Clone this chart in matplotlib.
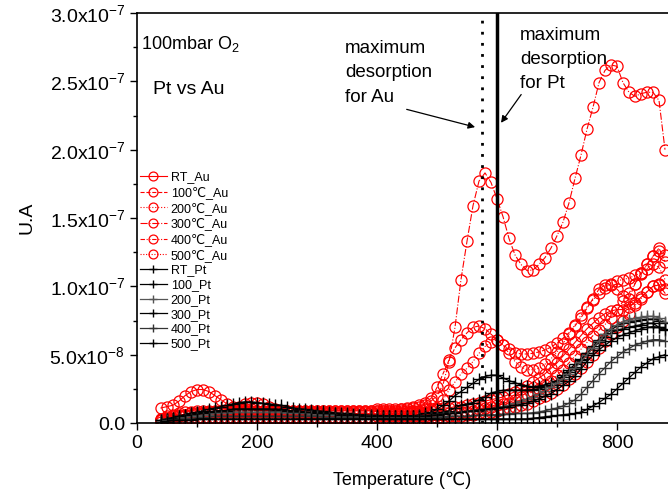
import matplotlib
matplotlib.use('Agg')
import matplotlib.pyplot as plt
import numpy as np
from matplotlib.ticker import MultipleLocator, FuncFormatter

plt.rcParams['font.family'] = ['Liberation Sans', 'DejaVu Sans']
plt.rcParams['mathtext.default'] = 'regular'

# temperature grid (C), one sample every 10 degrees
T = np.arange(40, 890, 10)

# signals in units of 1e-8
rt_au = [1.1, 1.2, 1.3, 1.6, 2.0, 2.3, 2.45, 2.45, 2.3, 2.0,
         1.7, 1.4, 1.2, 1.0, 1.0, 1.0, 0.9, 0.9, 0.9, 0.9,
         0.9, 0.9, 0.9, 0.9, 0.9, 0.9, 0.9, 0.9, 0.9, 0.9,
         0.9, 0.9, 0.9, 0.9, 0.9, 0.9, 0.9, 0.9, 0.9, 0.9,
         0.9, 0.9, 0.9, 0.9, 1.0, 1.0, 1.0, 1.1, 1.1, 1.2,
         1.2, 1.3, 1.4, 1.5, 1.6, 1.7, 1.8, 1.9, 2.1, 2.3,
         2.5, 2.7, 3.0, 3.3, 3.6, 4.0, 4.4, 4.9, 5.4, 5.9,
         6.4, 6.9, 7.3, 7.7, 8.0, 8.2, 8.3, 8.3, 8.5, 8.8,
         9.2, 9.6, 10.0, 10.1, 9.5]
au_100 = [0.3, 0.5, 0.6, 0.7, 0.8, 0.8, 0.9, 0.9, 0.9, 0.9,
          0.9, 0.9, 0.9, 0.9, 0.9, 0.9, 0.9, 0.9, 0.9, 0.9,
          0.9, 0.9, 0.9, 0.9, 0.9, 0.9, 0.9, 0.9, 0.9, 0.9,
          0.9, 0.9, 0.9, 0.9, 0.9, 0.9, 1.0, 1.0, 1.0, 1.0,
          1.0, 1.1, 1.2, 1.3, 1.5, 1.8, 2.6, 3.6, 4.6, 5.5,
          6.1, 6.6, 7.0, 7.1, 6.9, 6.5, 6.1, 5.7, 5.4, 5.15,
          5.05, 5.05, 5.1, 5.2, 5.35, 5.55, 5.85, 6.2, 6.6, 7.1,
          7.7, 8.4, 9.1, 9.8, 10.1, 10.1, 9.8, 9.3, 9.1, 10.2,
          11.0, 11.6, 12.2, 12.8, 11.8]
au_200 = [0.2, 0.3, 0.4, 0.5, 0.6, 0.6, 0.7, 0.7, 0.7, 0.8,
          0.8, 0.9, 1.0, 1.2, 1.4, 1.5, 1.5, 1.4, 1.2, 1.0,
          0.9, 0.8, 0.8, 0.7, 0.7, 0.7, 0.7, 0.7, 0.7, 0.7,
          0.7, 0.7, 0.7, 0.7, 0.7, 0.7, 0.7, 0.7, 0.7, 0.7,
          0.7, 0.7, 0.7, 0.7, 0.8, 0.9, 1.1, 1.7, 2.4, 3.0,
          3.6, 4.0, 4.5, 5.1, 5.6, 5.9, 6.1, 5.7, 5.1, 4.5,
          4.1, 3.9, 3.9, 4.0, 4.3, 4.7, 5.2, 5.8, 6.5, 7.2,
          7.9, 8.5, 9.0, 9.5, 9.9, 10.2, 10.4, 10.5, 10.6, 10.8,
          11.0, 11.3, 11.6, 11.4, 10.5]
au_300 = [0.3, 0.4, 0.5, 0.6, 0.6, 0.7, 0.7, 0.7, 0.8, 0.8,
          0.8, 0.8, 0.8, 0.8, 0.8, 0.8, 0.8, 0.8, 0.8, 0.8,
          0.8, 0.8, 0.8, 0.8, 0.8, 0.8, 0.8, 0.8, 0.8, 0.8,
          0.8, 0.8, 0.8, 0.8, 0.8, 0.8, 0.9, 0.9, 0.9, 0.9,
          1.0, 1.0, 1.1, 1.2, 1.3, 1.6, 2.0, 2.8, 4.5, 7.0,
          10.5, 13.3, 15.9, 17.7, 18.3, 17.6, 16.4, 15.1, 13.5, 12.3,
          11.6, 11.15, 11.2, 11.6, 12.1, 12.8, 13.7, 14.7, 16.1, 17.9,
          19.6, 21.5, 23.1, 24.9, 25.8, 26.2, 26.1, 24.9, 24.2, 23.9,
          24.1, 24.2, 24.2, 23.6, 20.0]
au_400 = [0.2, 0.2, 0.3, 0.3, 0.3, 0.4, 0.4, 0.4, 0.4, 0.4,
          0.4, 0.4, 0.4, 0.4, 0.4, 0.4, 0.4, 0.4, 0.4, 0.4,
          0.4, 0.4, 0.4, 0.4, 0.4, 0.4, 0.4, 0.4, 0.4, 0.4,
          0.4, 0.4, 0.4, 0.4, 0.4, 0.4, 0.5, 0.5, 0.5, 0.5,
          0.5, 0.5, 0.5, 0.5, 0.5, 0.6, 0.6, 0.6, 0.7, 0.7,
          0.8, 0.8, 0.9, 1.0, 1.1, 1.2, 1.3, 1.4, 1.5, 1.7,
          1.9, 2.1, 2.3, 2.5, 2.8, 3.1, 3.5, 3.9, 4.4, 4.9,
          5.4, 5.9, 6.4, 6.8, 7.2, 7.7, 8.3, 8.9, 9.5, 10.2,
          10.9, 11.6, 12.2, 12.6, 12.3]
au_500 = [0.1, 0.2, 0.2, 0.2, 0.2, 0.3, 0.3, 0.3, 0.3, 0.3,
          0.3, 0.3, 0.3, 0.3, 0.3, 0.3, 0.3, 0.3, 0.3, 0.3,
          0.3, 0.3, 0.3, 0.3, 0.3, 0.3, 0.3, 0.3, 0.3, 0.3,
          0.3, 0.3, 0.3, 0.3, 0.3, 0.3, 0.3, 0.3, 0.3, 0.3,
          0.3, 0.3, 0.3, 0.3, 0.4, 0.4, 0.4, 0.4, 0.5, 0.5,
          0.5, 0.6, 0.6, 0.7, 0.7, 0.8, 0.9, 1.0, 1.1, 1.2,
          1.3, 1.4, 1.6, 1.8, 2.0, 2.2, 2.5, 2.8, 3.2, 3.6,
          4.0, 4.5, 5.0, 5.5, 6.0, 6.5, 7.0, 7.5, 8.0, 8.6,
          9.1, 9.6, 10.0, 10.2, 9.8]

rt_pt = [0.2, 0.3, 0.4, 0.5, 0.6, 0.7, 0.8, 0.9, 1.0, 1.1,
         1.2, 1.3, 1.4, 1.5, 1.55, 1.55, 1.5, 1.45, 1.4, 1.35,
         1.3, 1.2, 1.1, 1.05, 1.0, 0.95, 0.9, 0.85, 0.8, 0.75,
         0.7, 0.7, 0.65, 0.6, 0.6, 0.55, 0.55, 0.5, 0.5, 0.5,
         0.5, 0.5, 0.5, 0.6, 0.7, 0.8, 1.0, 1.3, 1.6, 2.0,
         2.3, 2.6, 2.9, 3.2, 3.4, 3.5, 3.5, 3.3, 3.1, 2.95,
         2.8, 2.7, 2.65, 2.7, 2.8, 2.9, 3.1, 3.4, 3.7, 4.1,
         4.6, 5.1, 5.6, 6.1, 6.5, 6.8, 7.1, 7.3, 7.4, 7.5,
         7.55, 7.6, 7.6, 7.5, 7.3]
pt_100 = [0.1, 0.2, 0.3, 0.4, 0.5, 0.6, 0.6, 0.7, 0.8, 0.8,
          0.9, 0.9, 1.0, 1.0, 1.0, 1.0, 1.0, 1.0, 1.0, 0.9,
          0.9, 0.9, 0.8, 0.8, 0.7, 0.7, 0.7, 0.6, 0.6, 0.6,
          0.5, 0.5, 0.5, 0.5, 0.5, 0.5, 0.5, 0.5, 0.5, 0.5,
          0.5, 0.5, 0.5, 0.5, 0.5, 0.6, 0.7, 0.8, 0.9, 1.1,
          1.3, 1.4, 1.5, 1.7, 1.9, 2.2, 2.3, 2.4, 2.4, 2.4,
          2.4, 2.4, 2.45, 2.5, 2.6, 2.8, 3.1, 3.5, 3.9, 4.3,
          4.7, 5.1, 5.5, 5.9, 6.3, 6.6, 6.8, 6.9, 7.0, 7.1,
          7.2, 7.3, 7.3, 7.0, 6.8]
pt_200 = [0.2, 0.3, 0.3, 0.4, 0.4, 0.5, 0.5, 0.6, 0.6, 0.7,
          0.7, 0.7, 0.8, 0.8, 0.8, 0.8, 0.8, 0.8, 0.8, 0.8,
          0.8, 0.7, 0.7, 0.7, 0.7, 0.6, 0.6, 0.6, 0.6, 0.6,
          0.5, 0.5, 0.5, 0.5, 0.5, 0.5, 0.4, 0.4, 0.4, 0.4,
          0.4, 0.4, 0.45, 0.5, 0.5, 0.55, 0.6, 0.65, 0.7, 0.75,
          0.8, 0.85, 0.9, 0.95, 1.0, 1.05, 1.1, 1.2, 1.3, 1.45,
          1.6, 1.75, 1.9, 2.1, 2.35, 2.6, 2.9, 3.25, 3.6, 4.0,
          4.5, 5.0, 5.5, 6.0, 6.5, 6.9, 7.2, 7.4, 7.55, 7.65,
          7.75, 7.8, 7.8, 7.7, 7.4]
pt_300 = [0.2, 0.3, 0.4, 0.5, 0.6, 0.7, 0.7, 0.8, 0.8, 0.9,
          0.9, 0.9, 1.0, 1.0, 1.0, 1.0, 1.0, 1.0, 1.0, 1.0,
          1.0, 0.9, 0.9, 0.9, 0.8, 0.8, 0.8, 0.7, 0.7, 0.7,
          0.6, 0.6, 0.6, 0.6, 0.5, 0.5, 0.5, 0.5, 0.5, 0.5,
          0.5, 0.5, 0.5, 0.5, 0.5, 0.55, 0.6, 0.65, 0.7, 0.75,
          0.8, 0.85, 0.9, 0.95, 1.0, 1.05, 1.1, 1.15, 1.2, 1.3,
          1.35, 1.45, 1.6, 1.75, 1.95, 2.15, 2.45, 2.75, 3.05, 3.45,
          3.95, 4.5, 4.95, 5.35, 5.7, 6.0, 6.25, 6.45, 6.6, 6.75,
          6.9, 7.0, 7.05, 7.0, 6.9]
pt_400 = [0.1, 0.2, 0.2, 0.3, 0.3, 0.3, 0.4, 0.4, 0.4, 0.5,
          0.5, 0.5, 0.5, 0.5, 0.5, 0.5, 0.5, 0.5, 0.5, 0.5,
          0.5, 0.5, 0.5, 0.5, 0.5, 0.5, 0.5, 0.4, 0.4, 0.4,
          0.4, 0.4, 0.4, 0.4, 0.4, 0.4, 0.4, 0.4, 0.4, 0.4,
          0.4, 0.4, 0.4, 0.4, 0.4, 0.4, 0.45, 0.45, 0.5, 0.5,
          0.5, 0.5, 0.55, 0.55, 0.6, 0.6, 0.6, 0.65, 0.65, 0.7,
          0.7, 0.7, 0.75, 0.8, 0.9, 1.0, 1.1, 1.25, 1.45, 1.7,
          2.1, 2.6, 3.1, 3.6, 4.05, 4.5, 4.85, 5.2, 5.45, 5.7,
          5.85, 6.0, 6.1, 6.1, 6.0]
pt_500 = [0.1, 0.1, 0.2, 0.2, 0.2, 0.2, 0.3, 0.3, 0.3, 0.3,
          0.3, 0.3, 0.3, 0.3, 0.3, 0.3, 0.3, 0.3, 0.3, 0.3,
          0.3, 0.3, 0.3, 0.3, 0.3, 0.3, 0.3, 0.3, 0.3, 0.3,
          0.3, 0.3, 0.3, 0.3, 0.3, 0.3, 0.3, 0.3, 0.3, 0.3,
          0.3, 0.3, 0.3, 0.3, 0.3, 0.3, 0.3, 0.3, 0.3, 0.3,
          0.3, 0.3, 0.3, 0.3, 0.3, 0.3, 0.3, 0.3, 0.3, 0.3,
          0.3, 0.3, 0.35, 0.4, 0.45, 0.5, 0.55, 0.6, 0.65, 0.7,
          0.8, 1.0, 1.25, 1.5, 1.8, 2.1, 2.5, 2.9, 3.3, 3.7,
          4.1, 4.4, 4.7, 4.85, 5.0]

au_series = [rt_au, au_100, au_200, au_300, au_400, au_500]
au_labels = ['RT_Au', '100\u2103_Au', '200\u2103_Au', '300\u2103_Au', '400\u2103_Au', '500\u2103_Au']
au_styles = ['-', '--', ':', '-.', (0, (4, 1.5, 1, 1.5, 1, 1.5)), (0, (1, 1.5))]
pt_series = [rt_pt, pt_100, pt_200, pt_300, pt_400, pt_500]
pt_labels = ['RT_Pt', '100_Pt', '200_Pt', '300_Pt', '400_Pt', '500_Pt']
pt_colors = ['black', 'black', '#555555', 'black', '#333333', 'black']

fig = plt.figure(figsize=(6.68, 4.91), dpi=100)
ax = fig.add_axes([137/668, 68/491, 531/668, 410/491])

for y, lab, ls in zip(au_series, au_labels, au_styles):
    ax.plot(T, np.array(y)*1e-8, color='red', ls=ls, lw=0.8, marker='o', ms=8,
            mfc='none', mec='red', mew=0.9, label=lab)
for y, lab, c in zip(pt_series, pt_labels, pt_colors):
    ax.plot(T, np.array(y)*1e-8, color=c, ls='-', lw=0.9, marker='+', ms=8,
            mew=1.0, label=lab)

ax.axvline(575, color='black', ls=(0, (1, 3)), lw=2)
ax.axvline(600, color='black', ls='-', lw=2.5)

ax.set_xlim(0, 885)
ax.set_ylim(0, 3.0e-7)
ax.xaxis.set_major_locator(MultipleLocator(200))
ax.xaxis.set_minor_locator(MultipleLocator(100))
ax.yaxis.set_major_locator(MultipleLocator(5e-8))
ax.yaxis.set_minor_locator(MultipleLocator(2.5e-8))

def yfmt(v, pos):
    if abs(v) < 1e-20:
        return '0.0'
    e = int(np.floor(np.log10(abs(v)) + 1e-9))
    m = v / 10**e
    return '%.1fx10$^{%d}$' % (m, e)

ax.yaxis.set_major_formatter(FuncFormatter(yfmt))
ax.tick_params(which='major', direction='out', length=5, width=1, labelsize=14)
ax.tick_params(which='minor', direction='out', length=3, width=1)
ax.tick_params(top=False, right=False)
ax.spines['right'].set_visible(False)
for s in ['left', 'bottom', 'top']:
    ax.spines[s].set_linewidth(1.2)

ax.set_xlabel('Temperature (\u2103)', fontsize=13, labelpad=14)
ax.set_ylabel('U.A', fontsize=14, labelpad=10)

ax.text(7, 27.7e-8, '100mbar O$_2$', fontsize=13, va='center', ha='left')
ax.text(27, 24.4e-8, 'Pt vs Au', fontsize=14, va='center', ha='left')

ax.text(347, 28.0e-8, 'maximum\ndesorption\nfor Au', fontsize=13.5, va='top', ha='left',
        linespacing=1.55)
ax.text(638, 29.0e-8, 'maximum\ndesorption\nfor Pt', fontsize=13.5, va='top', ha='left',
        linespacing=1.55)
ax.annotate('', xy=(568, 21.6e-8), xytext=(445, 23.0e-8),
            arrowprops=dict(arrowstyle='-|>', color='black', lw=0.9, mutation_scale=10))
ax.annotate('', xy=(604, 21.8e-8), xytext=(643, 24.2e-8),
            arrowprops=dict(arrowstyle='-|>', color='black', lw=0.9, mutation_scale=10))

ax.legend(loc='upper left', bbox_to_anchor=(0.0, 0.62), frameon=False, fontsize=9,
          borderpad=0.2, borderaxespad=0, handlelength=2.2, handletextpad=0.3,
          labelspacing=0.22, markerscale=0.8)

fig.savefig('out.png', dpi=100)
